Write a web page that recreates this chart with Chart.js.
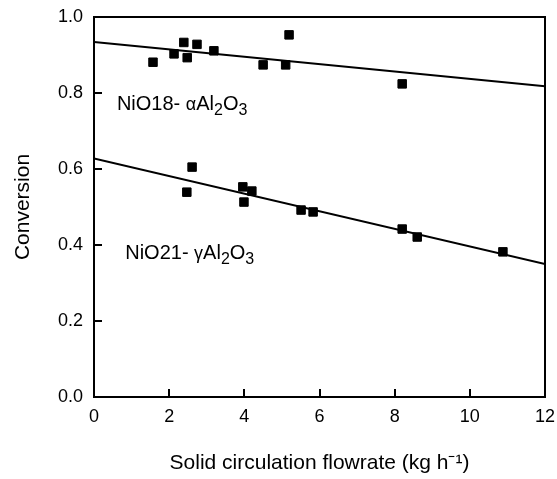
<!DOCTYPE html>
<html>
<head>
<meta charset="utf-8">
<script src="https://cdn.jsdelivr.net/npm/chart.js@4"></script>
<style>
  html, body { margin: 0; padding: 0; background: #fff; }
  canvas { display: block; }
</style>
</head>
<body>
<canvas id="conversionChart" width="557" height="479"></canvas>
<script>
// NiO18 on alpha-Al2O3 (upper set)
const alphaFlow = [1.57, 2.13, 2.39, 2.48, 2.74, 3.19, 4.50, 5.10, 5.19, 8.20];
const alphaConversion = [0.881, 0.903, 0.933, 0.893, 0.928, 0.911, 0.874, 0.874, 0.953, 0.824];
// NiO21 on gamma-Al2O3 (lower set)
const gammaFlow = [2.47, 2.61, 3.96, 3.99, 4.20, 5.51, 5.83, 8.20, 8.60, 10.88];
const gammaConversion = [0.539, 0.605, 0.553, 0.513, 0.542, 0.492, 0.487, 0.442, 0.421, 0.382];
// fitted lines, ends of the x range
const fitFlow = [0, 12];
const alphaFit = [0.934, 0.818];
const gammaFit = [0.628, 0.350];
const xTicks = [0, 2, 4, 6, 8, 10, 12];
const yTicks = [0, 0.2, 0.4, 0.6, 0.8, 1.0];

const FONT = '"Liberation Sans", Arial, sans-serif';
const toPoints = (xs, ys) => xs.map((x, i) => ({ x, y: ys[i] }));

// labels drawn next to each set, parts: [text, kind] n=normal g=greek s=subscript
const seriesLabels = [
  { x: 0.61, y: 0.755, parts: [['NiO18- ', 'n'], ['α', 'g'], ['Al', 'n'], ['2', 's'], ['O', 'n'], ['3', 's']] },
  { x: 0.83, y: 0.363, parts: [['NiO21- ', 'n'], ['γ', 'g'], ['Al', 'n'], ['2', 's'], ['O', 'n'], ['3', 's']] },
];

const frameAndText = {
  id: 'frameAndText',
  afterDraw(chart) {
    const { ctx, chartArea: area, scales } = chart;
    ctx.save();
    ctx.strokeStyle = '#000';
    ctx.lineWidth = 2;
    ctx.strokeRect(area.left, area.top, area.right - area.left, area.bottom - area.top);

    // inward tick marks
    ctx.beginPath();
    xTicks.forEach(v => {
      const px = Math.round(scales.x.getPixelForValue(v));
      ctx.moveTo(px, area.bottom);
      ctx.lineTo(px, area.bottom - 8);
    });
    yTicks.forEach(v => {
      const py = Math.round(scales.y.getPixelForValue(v));
      ctx.moveTo(area.left, py);
      ctx.lineTo(area.left + 8, py);
    });
    ctx.stroke();

    ctx.fillStyle = '#000';
    ctx.textBaseline = 'alphabetic';
    ctx.textAlign = 'left';
    seriesLabels.forEach(label => {
      let px = scales.x.getPixelForValue(label.x);
      const py = scales.y.getPixelForValue(label.y);
      label.parts.forEach(([text, kind]) => {
        let size = 20;
        let dy = 0;
        if (kind === 'g') size = 18;
        if (kind === 's') { size = 16; dy = 5; }
        ctx.font = `${size}px ${FONT}`;
        ctx.fillText(text, px, py + dy);
        px += ctx.measureText(text).width;
      });
    });
    ctx.restore();
  },
};

new Chart(document.getElementById('conversionChart'), {
  type: 'scatter',
  data: {
    datasets: [
      {
        label: 'NiO18',
        data: toPoints(alphaFlow, alphaConversion),
        pointStyle: 'rect',
        pointRadius: 6,
        backgroundColor: '#000',
        borderColor: '#000',
        borderWidth: 1,
      },
      {
        label: 'NiO21',
        data: toPoints(gammaFlow, gammaConversion),
        pointStyle: 'rect',
        pointRadius: 6,
        backgroundColor: '#000',
        borderColor: '#000',
        borderWidth: 1,
      },
      {
        label: 'NiO18 fit',
        data: toPoints(fitFlow, alphaFit),
        showLine: true,
        pointRadius: 0,
        borderColor: '#000',
        borderWidth: 2,
      },
      {
        label: 'NiO21 fit',
        data: toPoints(fitFlow, gammaFit),
        showLine: true,
        pointRadius: 0,
        borderColor: '#000',
        borderWidth: 2,
      },
    ],
  },
  options: {
    responsive: false,
    animation: false,
    layout: { padding: { top: 17, right: 12, left: 0, bottom: 0 } },
    plugins: { legend: { display: false }, tooltip: { enabled: false } },
    scales: {
      x: {
        type: 'linear',
        min: 0,
        max: 12,
        afterFit: scale => {
          scale.height = 82;
          scale.paddingLeft = 0;
          scale.paddingRight = 0;
        },
        afterBuildTicks: scale => { scale.ticks = xTicks.map(value => ({ value })); },
        grid: { display: false, drawTicks: false },
        border: { display: false },
        ticks: { color: '#000', padding: 9, font: { family: FONT, size: 18 } },
        title: {
          display: true,
          text: 'Solid circulation flowrate (kg h⁻¹)',
          color: '#000',
          font: { family: FONT, size: 21 },
          padding: { top: 0, bottom: 3 },
        },
      },
      y: {
        min: 0,
        max: 1,
        afterFit: scale => {
          scale.width = 94;
          scale.paddingTop = 0;
          scale.paddingBottom = 0;
        },
        afterBuildTicks: scale => { scale.ticks = yTicks.map(value => ({ value })); },
        grid: { display: false, drawTicks: false },
        border: { display: false },
        ticks: {
          color: '#000',
          padding: 11,
          font: { family: FONT, size: 18 },
          callback: value => value.toFixed(1),
        },
        title: {
          display: true,
          text: 'Conversion',
          color: '#000',
          font: { family: FONT, size: 21 },
          padding: { top: 11, bottom: 0 },
        },
      },
    },
  },
  plugins: [frameAndText],
});
</script>
</body>
</html>
